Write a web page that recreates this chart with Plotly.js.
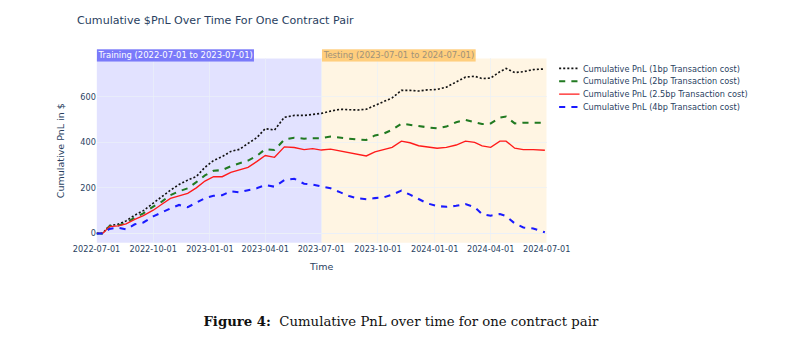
<!DOCTYPE html>
<html>
<head>
<meta charset="utf-8">
<script src="https://cdn.plot.ly/plotly-3.0.1.min.js"></script>
<style>
html,body{margin:0;padding:0;background:#fff;overflow:hidden;width:803px;height:340px;}
#wrap{width:803px;height:340px;overflow:hidden;position:relative;}
#chart{width:1181px;height:500px;transform:scale(0.68);transform-origin:0 0;}
</style>
</head>
<body>
<div id="wrap"><div id="chart"></div></div>
<script>
// ---- data ----
const dates = [
  '2022-07-01','2022-07-11','2022-07-22','2022-08-05','2022-08-18','2022-09-01','2022-09-15',
  '2022-10-01','2022-10-15','2022-10-29','2022-11-12','2022-11-26','2022-12-10','2022-12-24',
  '2023-01-07','2023-01-21','2023-02-04','2023-02-18','2023-03-04','2023-03-18','2023-04-01',
  '2023-04-16','2023-05-02','2023-05-18','2023-06-03','2023-06-17','2023-07-01','2023-07-16',
  '2023-08-01','2023-08-15','2023-08-29','2023-09-12','2023-09-26','2023-10-10','2023-10-24',
  '2023-11-08','2023-11-22','2023-12-06','2023-12-20','2024-01-05','2024-01-20','2024-02-05',
  '2024-02-20','2024-03-06','2024-03-18','2024-04-01','2024-04-16','2024-04-26','2024-05-10',
  '2024-05-24','2024-06-09','2024-06-28'
];
const pnl1bp = [
  0,0,35,40,55,80,100,
  132,160,190,215,234,250,290,
  320,337,360,369,395,420,460,
  454,510,518,518,522,527,537,
  545,543,542,545,562,578,595,
  628,628,625,630,632,642,665,
  686,690,680,682,710,724,706,
  710,719,722
];
const pnl2bp = [
  0,0,32,35,45,70,88,
  118,140,168,185,198,225,255,
  275,278,295,307,320,340,370,
  366,412,420,416,418,418,425,
  420,416,412,410,430,438,455,
  482,476,470,466,461,469,488,
  498,488,480,483,508,513,483,
  486,486,486
];
const pnl25bp = [
  0,0,30,33,42,62,78,
  102,128,154,165,176,200,230,
  249,249,268,278,290,315,342,
  334,380,377,368,372,366,370,
  362,354,348,340,358,368,378,
  405,398,385,380,374,378,388,
  405,400,384,378,405,405,374,
  368,368,365
];
const pnl4bp = [
  0,0,20,25,18,40,48,
  75,92,110,125,115,135,155,
  165,168,185,180,190,198,212,
  205,234,240,218,214,206,198,
  180,164,154,150,155,158,170,
  188,170,150,132,120,117,121,
  129,115,85,78,85,76,44,
  26,22,5
];
const seriesNames = [
  'Cumulative PnL (1bp Transaction cost)',
  'Cumulative PnL (2bp Transaction cost)',
  'Cumulative PnL (2.5bp Transaction cost)',
  'Cumulative PnL (4bp Transaction cost)'
];
const periodStarts = ['2022-07-01','2023-07-01'];
const periodEnds = ['2023-07-01','2024-07-01'];
const periodLabels = ['Training (2022-07-01 to 2023-07-01)','Testing (2023-07-01 to 2024-07-01)'];
const yTicks = [0,200,400,600];

// ---- styles ----
const FONT = '"DejaVu Sans", Verdana, sans-serif';
const lineStyles = [
  {color:'#111111', dash:'dot', width:2.4},
  {color:'#217a21', dash:'dash', width:3},
  {color:'#ff1a1a', dash:'solid', width:2},
  {color:'#1a1aff', dash:'dash', width:3}
];
const allSeries = [pnl1bp, pnl2bp, pnl25bp, pnl4bp];
const traces = allSeries.map((v,i)=>({
  x: dates, y: v, type:'scatter', mode:'lines', name: seriesNames[i],
  line: lineStyles[i]
}));

const rectColors = ['rgba(0,0,255,0.115)','rgba(255,165,0,0.11)'];
const labelBg = ['rgba(122,122,250,1)','rgba(255,206,125,1)'];
const labelFont = ['#ffffff','#a0927a'];

const shapes = periodStarts.map((s,i)=>({
  type:'rect', xref:'x', yref:'paper', x0:s, x1:periodEnds[i], y0:0, y1:1,
  fillcolor: rectColors[i], line:{width:0}, layer:'below'
}));
const annotations = periodStarts.map((s,i)=>({
  x:s, y:1, xref:'x', yref:'paper', xanchor:'left', yanchor:'bottom', yshift:-5,
  text: periodLabels[i], showarrow:false, bgcolor: labelBg[i],
  font:{family:FONT, size:12.4, color: labelFont[i]}, borderpad:1
}));
annotations.push({
  xref:'paper', yref:'paper', x:0.676, y:-0.43, xanchor:'center', yanchor:'middle',
  showarrow:false,
  text:'<b>Figure 4:</b>  Cumulative PnL over time for one contract pair',
  font:{family:'"DejaVu Serif", serif', size:19.5, color:'#111111'}
});

const layout = {
  width:1181, height:500,
  margin:{l:142, r:377, t:86, b:143},
  paper_bgcolor:'#ffffff', plot_bgcolor:'#ffffff',
  font:{family:FONT, color:'#2a3f5f', size:12},
  title:{text:'Cumulative $PnL Over Time For One Contract Pair', xref:'container', x:0.096, xanchor:'left',
         yref:'container', y:0.94, yanchor:'middle', font:{family:FONT, size:16.3, color:'#2a3f5f'}},
  xaxis:{
    title:{text:'Time', font:{size:14}, standoff:15},
    type:'date', range:['2022-07-01','2024-07-01'],
    tick0:'2022-07-01', dtick:'M3', tickformat:'%Y-%m-%d',
    gridcolor:'#EBF0F8', zeroline:false, showline:false, ticks:'',
    tickfont:{size:12, color:'#2a3f5f'}
  },
  yaxis:{
    title:{text:'Cumulative PnL in $', font:{size:14}, standoff:20},
    range:[-41,768], tickvals:yTicks, ticktext:yTicks.map(String),
    gridcolor:'#EBF0F8', zeroline:true, zerolinecolor:'#EBF0F8', zerolinewidth:2,
    tickfont:{size:12, color:'#2a3f5f'}
  },
  legend:{x:1.02, y:1, xanchor:'left', yanchor:'top', font:{size:12, color:'#2a3f5f'}, bgcolor:'rgba(0,0,0,0)'},
  shapes: shapes,
  annotations: annotations,
  showlegend:true
};
Plotly.newPlot('chart', traces, layout, {displayModeBar:false, staticPlot:true});
</script>
</body>
</html>
